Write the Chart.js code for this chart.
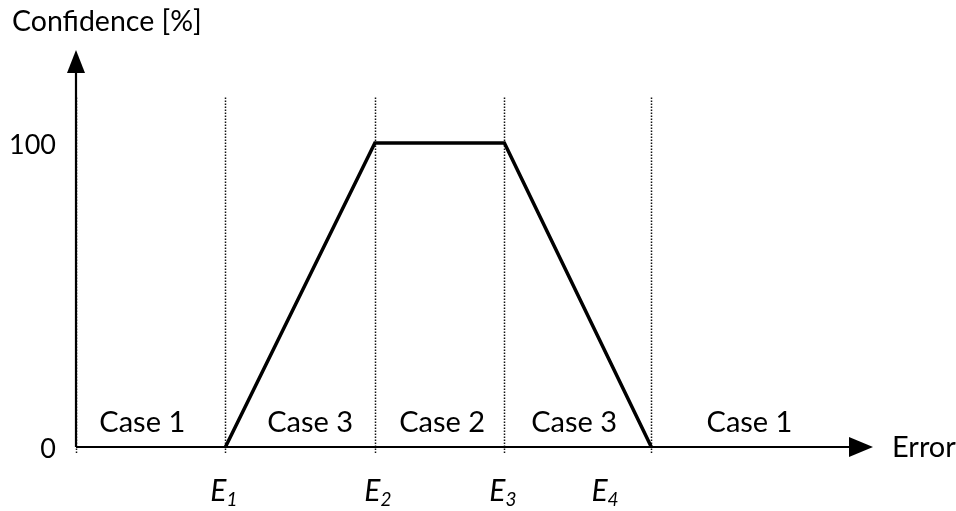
<!DOCTYPE html>
<html><head><meta charset="utf-8">
<script src="https://cdn.jsdelivr.net/npm/chart.js@4"></script>
<style>html,body{margin:0;padding:0;background:#fff}</style>
</head><body>
<canvas id="c" width="956" height="511"></canvas>
<script>
// ---- data ----
const breakpoints = [3, 6, 8.6, 11.55];        // E1..E4 positions on the error axis
const confidence = [0, 100, 100, 0];           // confidence [%] at each breakpoint
const breakSubscripts = ['1', '2', '3', '4'];
const breakLabelPos = [2.97, 6.06, 8.57, 10.62];
const caseLabels = ['Case 1', 'Case 3', 'Case 2', 'Case 3', 'Case 1'];
const casePos = [1.33, 4.7, 7.35, 10.0, 13.52];
const yTickValues = [0, 100];
const yTickLabels = ['0', '100'];
const xAxisTitle = 'Error';
const yAxisTitle = 'Confidence [%]';
const X_MAX = 16, Y_MAX = 130.6, GUIDE_TOP = 115, GUIDE_BOTTOM = -2;

const FONT = 'Lato, "Open Sans", sans-serif';

const deco = {
  id: 'deco',
  beforeDatasetsDraw(chart) {
    const {ctx, scales: {x, y}} = chart;
    ctx.save();
    ctx.strokeStyle = '#111';
    ctx.lineWidth = 1.5;
    ctx.setLineDash([1.5, 1.5]);
    [0, ...breakpoints].forEach(v => {
      const px = Math.round(x.getPixelForValue(v)) + 0.5;
      ctx.beginPath();
      ctx.moveTo(px, y.getPixelForValue(GUIDE_TOP));
      ctx.lineTo(px, y.getPixelForValue(GUIDE_BOTTOM));
      ctx.stroke();
    });
    ctx.restore();
  },
  afterDatasetsDraw(chart) {
    const {ctx, scales: {x, y}} = chart;
    const x0 = x.getPixelForValue(0), y0 = y.getPixelForValue(0);
    const xEnd = x.getPixelForValue(X_MAX), yEnd = y.getPixelForValue(Y_MAX);
    ctx.save();
    ctx.strokeStyle = '#000';
    ctx.fillStyle = '#000';
    ctx.lineWidth = 2.2;
    // x axis
    ctx.beginPath(); ctx.moveTo(x0, y0); ctx.lineTo(xEnd - 18, y0); ctx.stroke();
    ctx.beginPath(); ctx.moveTo(xEnd, y0); ctx.lineTo(xEnd - 24, y0 - 10); ctx.lineTo(xEnd - 24, y0 + 10); ctx.closePath(); ctx.fill();
    // y axis
    ctx.beginPath(); ctx.moveTo(x0, y0); ctx.lineTo(x0, yEnd + 18); ctx.stroke();
    ctx.beginPath(); ctx.moveTo(x0, yEnd); ctx.lineTo(x0 - 9, yEnd + 23); ctx.lineTo(x0 + 9, yEnd + 23); ctx.closePath(); ctx.fill();

    // texts
    ctx.textBaseline = 'middle';
    ctx.font = '27px ' + FONT;
    ctx.textAlign = 'right';
    yTickValues.forEach((v, i) => ctx.fillText(yTickLabels[i], x0 - 20, y.getPixelForValue(v) + 2));
    ctx.font = '29px ' + FONT;
    ctx.textAlign = 'left';
    ctx.fillText(xAxisTitle, xEnd + 19, y0 + 1);
    ctx.font = '28.5px ' + FONT;
    ctx.fillText(yAxisTitle, 12, 22);
    ctx.font = '29px ' + FONT;
    ctx.textAlign = 'center';
    caseLabels.forEach((t, i) => ctx.fillText(t, x.getPixelForValue(casePos[i]), y0 - 24));
    // E labels with subscripts
    breakLabelPos.forEach((v, i) => {
      const cx = x.getPixelForValue(v);
      ctx.font = 'italic 30px ' + FONT;
      const wE = ctx.measureText('E').width;
      ctx.font = 'italic 19px ' + FONT;
      const wS = ctx.measureText(breakSubscripts[i]).width;
      const left = cx - (wE + wS) / 2;
      ctx.textAlign = 'left';
      ctx.font = 'italic 30px ' + FONT;
      ctx.fillText('E', left, y0 + 44);
      ctx.font = 'italic 19px ' + FONT;
      ctx.fillText(breakSubscripts[i], left + wE, y0 + 53);
    });
    ctx.restore();
  }
};

new Chart(document.getElementById('c'), {
  type: 'line',
  data: {
    datasets: [{
      data: breakpoints.map((b, i) => ({x: b, y: confidence[i]})),
      borderColor: '#000',
      borderWidth: 3.5,
      pointRadius: 0,
      fill: false,
      tension: 0
    }]
  },
  options: {
    responsive: false,
    animation: false,
    layout: {padding: {left: 76, right: 83, top: 50, bottom: 64}},
    plugins: {legend: {display: false}, tooltip: {enabled: false}},
    scales: {
      x: {type: 'linear', min: 0, max: X_MAX, display: false},
      y: {type: 'linear', min: 0, max: Y_MAX, display: false}
    }
  },
  plugins: [deco]
});
</script>
</body></html>
